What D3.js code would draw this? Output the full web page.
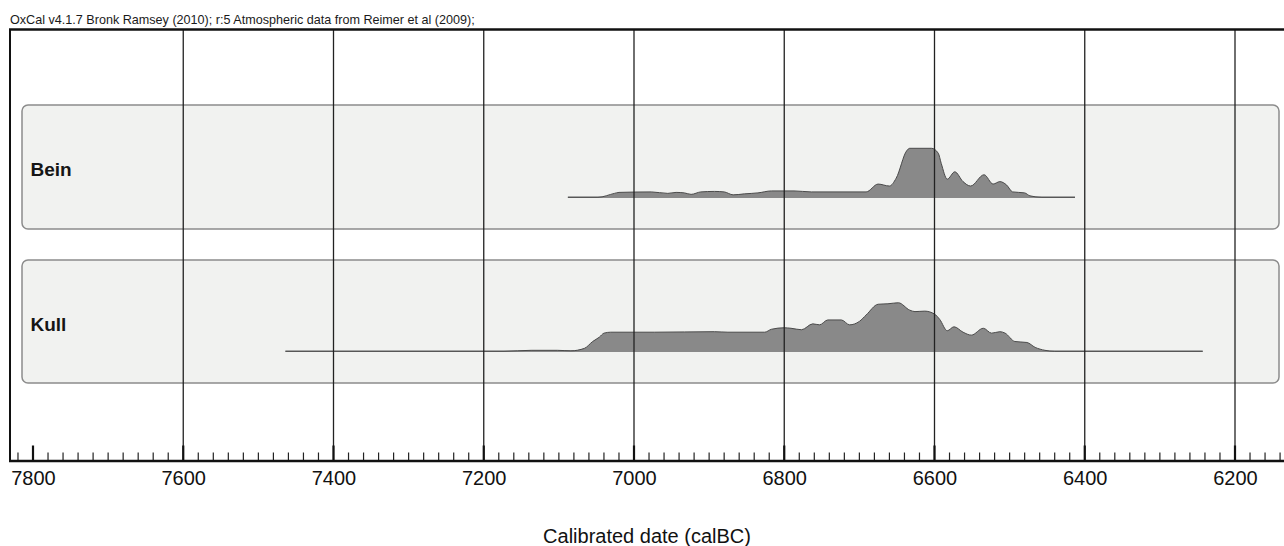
<!DOCTYPE html>
<html><head><meta charset="utf-8">
<script src="https://cdn.jsdelivr.net/npm/d3@7"></script>
<style>html,body{margin:0;padding:0;background:#fff;}svg{display:block;}</style>
</head><body>
<svg id="c" width="1284" height="546"></svg>
<script>
const titleText = "OxCal v4.1.7 Bronk Ramsey (2010); r:5 Atmospheric data from Reimer et al (2009);";
const axisTitle = "Calibrated date (calBC)";
const majorTicks = [7800, 7600, 7400, 7200, 7000, 6800, 6600, 6400, 6200];
const gridYears = [7600, 7400, 7200, 7000, 6800, 6600, 6400, 6200];
const sampleNames = ["Bein", "Kull"];

const beinYears = [7088,7048,7026,7020,6977,6955,6944,6933,6924,6911,6893,6880,6868,6853,6835,6817,6787,6764,6691,6675,6660,6651,6637,6633,6604,6595,6591,6583,6573,6562,6552,6534,6522,6513,6504,6496,6480,6473,6457,6413];
const beinProb  = [0,0,0.08,0.10,0.11,0.08,0.10,0.09,0.06,0.11,0.12,0.11,0.05,0.07,0.09,0.13,0.13,0.11,0.11,0.27,0.23,0.39,0.95,1.00,1.00,0.90,0.69,0.37,0.52,0.32,0.23,0.46,0.27,0.32,0.25,0.11,0.09,0.03,0,0];

const kullYears = [7464,7173,7137,7102,7084,7066,7055,7046,7040,7031,6973,6893,6875,6826,6817,6800,6791,6777,6762,6753,6742,6724,6713,6700,6691,6675,6662,6648,6633,6626,6613,6600,6593,6583,6574,6562,6551,6535,6524,6513,6506,6493,6477,6466,6453,6440,6243];
const kullProb  = [0,0,0.02,0.02,0.01,0.06,0.20,0.29,0.37,0.39,0.39,0.40,0.39,0.39,0.45,0.48,0.47,0.44,0.56,0.54,0.64,0.64,0.54,0.61,0.74,0.96,0.97,0.99,0.84,0.81,0.82,0.76,0.65,0.42,0.50,0.39,0.33,0.47,0.37,0.40,0.37,0.20,0.18,0.08,0.02,0,0];

const series = [
  {name: sampleNames[0], years: beinYears, prob: beinProb},
  {name: sampleNames[1], years: kullYears, prob: kullProb}
];

const FONT = "'Liberation Sans', Arial, Helvetica, sans-serif";
const svg = d3.select("#c");
const x = d3.scaleLinear().domain([7800, 6200]).range([33, 1235]);

const frameTop = 29.5, axisY = 461, frameLeft = 10;
const panelLayout = [{top: 105, bottom: 229, base: 197.3}, {top: 260, bottom: 383, base: 351.3}];
const peakH = 49;

// title
svg.append("text").attr("x", 10).attr("y", 24).attr("font-family", FONT)
  .attr("font-size", 12.6).attr("fill", "#1a1a1a").text(titleText);

// panels
series.forEach((s, i) => {
  const L = panelLayout[i];
  svg.append("rect").attr("x", 22).attr("y", L.top).attr("width", 1257).attr("height", L.bottom - L.top)
    .attr("rx", 6).attr("ry", 6).attr("fill", "#f1f2f0").attr("stroke", "#8c8c8c").attr("stroke-width", 1.5);
  svg.append("text").attr("x", 30.5).attr("y", (L.top + L.bottom) / 2 + 9).attr("font-family", FONT)
    .attr("font-size", 19).attr("font-weight", "bold").attr("fill", "#151515").text(s.name);

  const y = d3.scaleLinear().domain([0, 1]).range([L.base, L.base - peakH]);
  const pts = s.years.map((yr, k) => [yr, s.prob[k]]);
  // range line
  svg.append("line").attr("x1", x(s.years[0])).attr("x2", x(s.years[s.years.length - 1]))
    .attr("y1", L.base).attr("y2", L.base).attr("stroke", "#8a8a8a").attr("stroke-width", 1.5);
  const area = d3.area().x(d => x(d[0])).y0(L.base).y1(d => y(d[1])).curve(d3.curveMonotoneX);
  const line = d3.line().x(d => x(d[0])).y(d => y(d[1])).curve(d3.curveMonotoneX);
  svg.append("path").attr("d", area(pts)).attr("fill", "#898989");
  svg.append("path").attr("d", line(pts)).attr("fill", "none").attr("stroke", "#4a4a4a").attr("stroke-width", 1);
});

// gridlines
svg.append("g").selectAll("line").data(gridYears).join("line")
  .attr("x1", d => x(d)).attr("x2", d => x(d)).attr("y1", frameTop).attr("y2", axisY)
  .attr("stroke", "#222").attr("stroke-width", 1.3);

// frame
svg.append("line").attr("x1", frameLeft - 1).attr("x2", 1284).attr("y1", frameTop).attr("y2", frameTop)
  .attr("stroke", "#111").attr("stroke-width", 2.5);
svg.append("line").attr("x1", frameLeft).attr("x2", frameLeft).attr("y1", frameTop).attr("y2", axisY)
  .attr("stroke", "#111").attr("stroke-width", 2);

// axis
const minorTicks = d3.range(7820, 6130, -20).filter(v => v % 200 !== 0);
const axis = d3.axisBottom(x).tickValues(majorTicks).tickSize(0).tickPadding(0).tickFormat(d3.format("d"));
const gAxis = svg.append("g").attr("transform", `translate(0,${axisY})`).call(axis);
gAxis.select(".domain").remove();
gAxis.selectAll("text").attr("font-family", FONT).attr("font-size", 20).attr("fill", "#111")
  .attr("dy", null).attr("y", 24);
svg.append("g").selectAll("line").data(minorTicks).join("line")
  .attr("x1", d => x(d)).attr("x2", d => x(d)).attr("y1", axisY - 8.5).attr("y2", axisY)
  .attr("stroke", "#222").attr("stroke-width", 1.2);
svg.append("g").selectAll("line").data(majorTicks).join("line")
  .attr("x1", d => x(d)).attr("x2", d => x(d)).attr("y1", axisY - 15.5).attr("y2", axisY)
  .attr("stroke", "#111").attr("stroke-width", 2.2);
svg.append("line").attr("x1", frameLeft - 1).attr("x2", 1284).attr("y1", axisY).attr("y2", axisY)
  .attr("stroke", "#111").attr("stroke-width", 2.5);

svg.append("text").attr("x", 647).attr("y", 543).attr("text-anchor", "middle").attr("font-family", FONT)
  .attr("font-size", 20).attr("fill", "#111").text(axisTitle);
</script>
</body></html>
